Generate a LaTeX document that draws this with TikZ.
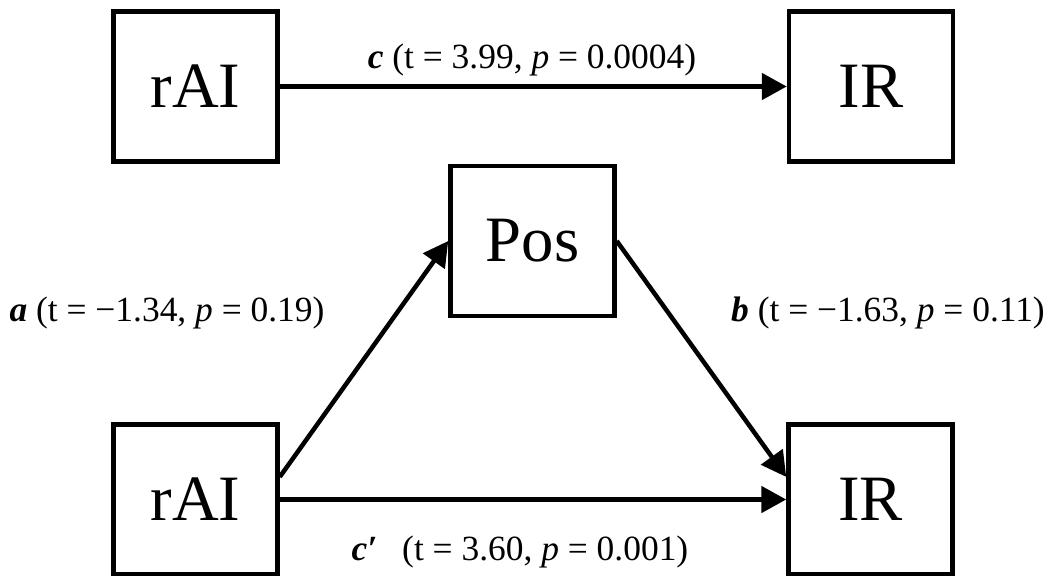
\documentclass[tikz,border=0pt]{standalone}
\usepackage{fontspec}
\setmainfont{Liberation Serif}
\usetikzlibrary{arrows.meta}
\newcommand{\bi}[1]{\textbf{\textit{#1}}}
\begin{document}
\begin{tikzpicture}[x=0.025cm, y=-0.025cm,
  box/.style={draw, line width=3.2pt, minimum width=4.1cm, minimum height=3.75cm,
    inner sep=0pt, font=\fontsize{46}{52}\selectfont},
  arr/.style={line width=3.2pt, -{Triangle[length=0.62cm, width=0.65cm]}},
  lbl/.style={inner sep=0pt, font=\fontsize{25.2}{30}\selectfont}]
  \useasboundingbox (0,0) rectangle (1060,575);

  \node[box] (rait) at (195.5,86.5) {rAI};
  \node[box] (irt) at (871,86.5) {IR};
  \draw[arr] (rait) -- (irt);
  \node[lbl] (labc) at (532,60) {\bi{c} (t = 3.99, \textit{p} = 0.0004)};

  \node[box] (pos) at (532.5,241) {Pos};
  \node[box] (raib) at (195.5,499.5) {rAI};
  \node[box] (irb) at (870.5,499.5) {IR};
  \draw[arr] (raib.15) -- (pos.west);
  \draw[arr] (pos.east) -- (irb.165);
  \draw[arr] (raib) -- (irb);

  \node[lbl] (laba) at (167,313) {\bi{a} (t = −1.34, \textit{p} = 0.19)};
  \node[lbl] (labb) at (888,313) {\bi{b} (t = −1.63, \textit{p} = 0.11)};
  \node[lbl] (labcp) at (520,552) {\bi{c′}\hspace{0.45em} (t = 3.60, \textit{p} = 0.001)};
\end{tikzpicture}
\end{document}
